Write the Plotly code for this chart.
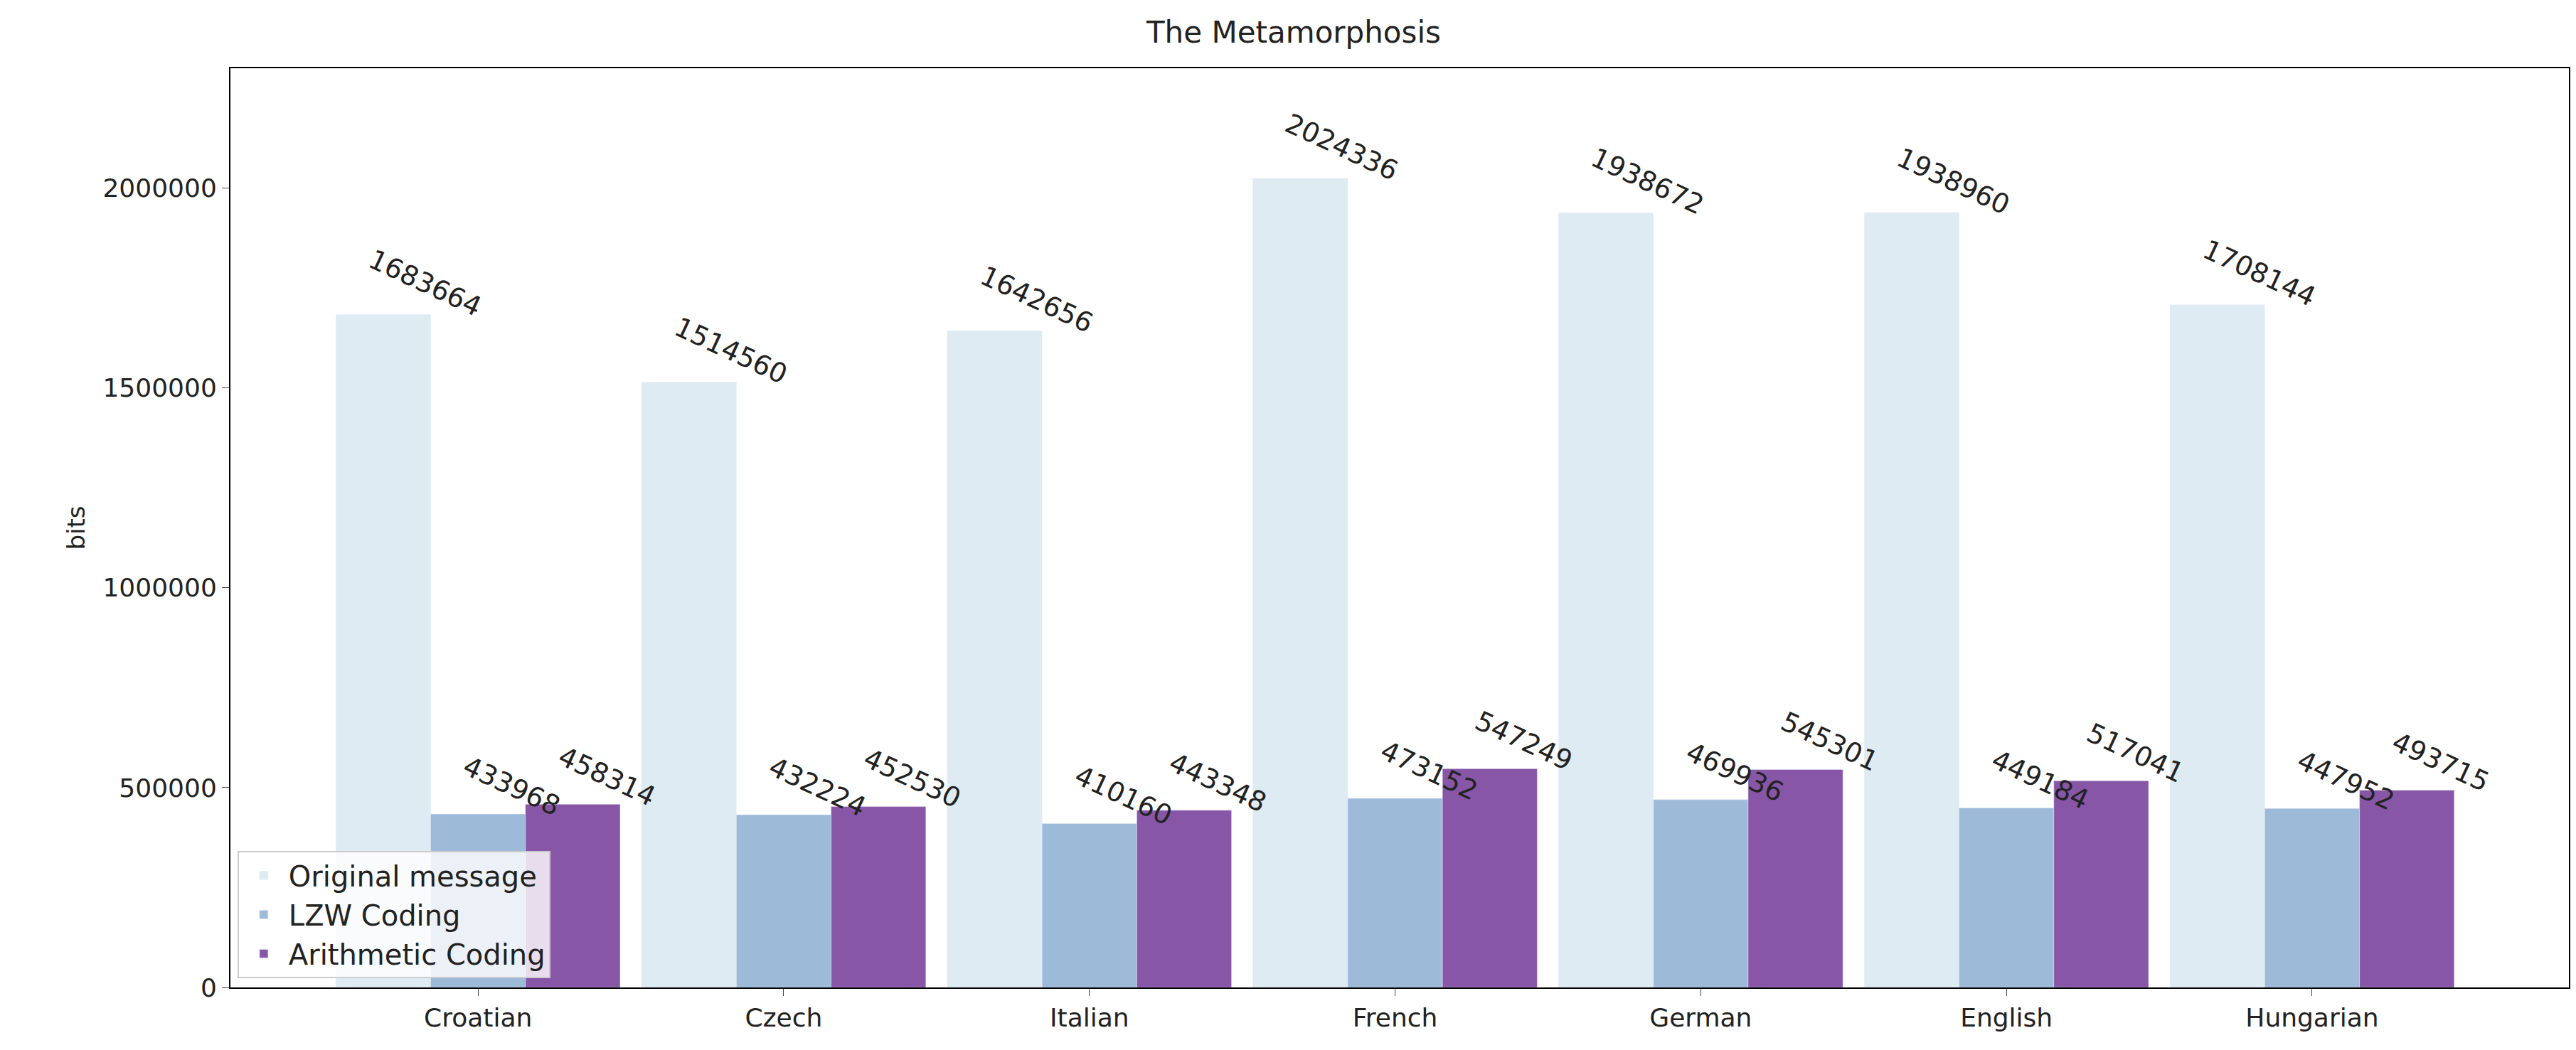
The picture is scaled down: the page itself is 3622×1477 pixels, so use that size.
import plotly.graph_objects as go

categories = ["Croatian", "Czech", "Italian", "French", "German", "English", "Hungarian"]
original = [1683664, 1514560, 1642656, 2024336, 1938672, 1938960, 1708144]
lzw = [433968, 432224, 410160, 473152, 469936, 449184, 447952]
arith = [458314, 452530, 443348, 547249, 545301, 517041, 493715]

series = [("Original message", original, "#deebf3"),
          ("LZW Coding", lzw, "#9ebad9"),
          ("Arithmetic Coding", arith, "#8856a7")]

fig = go.Figure()
ann = []
w = 0.31
offs = [-w, 0.0, w]
for k, (name, vals, col) in enumerate(series):
    fig.add_bar(x=list(range(len(categories))), y=vals, name=name, marker_color=col,
                width=w, offset=offs[k] - w / 2)
    for i, v in enumerate(vals):
        ann.append(dict(x=i + offs[k], y=v, xref="x", yref="y", text=str(v), showarrow=False,
                        textangle=25, xanchor="left", yanchor="bottom", xshift=-30, yshift=-14,
                        font=dict(size=38, color="#222")))

fig.update_layout(
    width=3622, height=1477, plot_bgcolor="white", paper_bgcolor="white",
    font=dict(family="DejaVu Sans", size=36, color="#222"),
    title=dict(text="The Metamorphosis", x=0.5, xanchor="center", y=0.985, font=dict(size=42)),
    margin=dict(l=316, r=18, t=88, b=96),
    barmode="overlay", annotations=ann,
    legend=dict(x=0.003, y=0.01, xanchor="left", yanchor="bottom", bgcolor="rgba(255,255,255,0.8)",
                bordercolor="#ccc", borderwidth=2, font=dict(size=40), itemwidth=60),
    showlegend=True,
)
fig.update_xaxes(tickvals=list(range(len(categories))), ticktext=categories, range=[-0.81, 6.84],
                 showline=True, linecolor="black", linewidth=2, mirror=True, ticks="outside",
                 ticklen=10, showgrid=False)
fig.update_yaxes(title=dict(text="bits", font=dict(size=34)), range=[0, 2300000], tickformat="d",
                 dtick=500000, showline=True, linecolor="black", linewidth=2, mirror=True,
                 ticks="outside", ticklen=10, showgrid=False, zeroline=False)
fig.write_html("out.html")
